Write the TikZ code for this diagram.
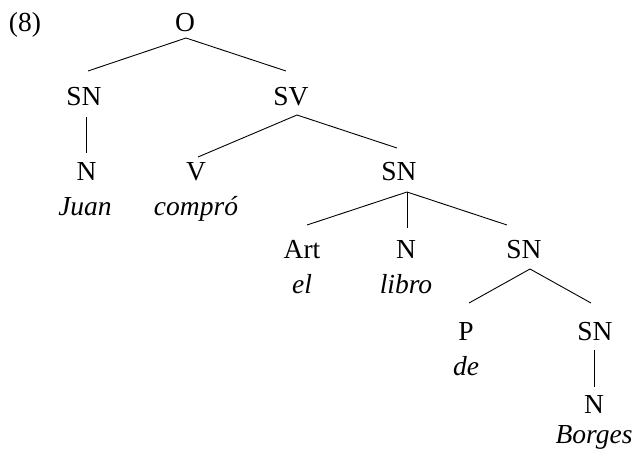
\documentclass[tikz,border=0pt]{standalone}
\usepackage{fontspec}
\setmainfont{Liberation Serif}
\begin{document}
\begin{tikzpicture}[x=1pt,y=-1pt,
  lab/.style={anchor=base,inner sep=0pt,font=\fontsize{27.5}{33}\selectfont},
  word/.style={lab,font=\fontsize{27.5}{33}\selectfont\itshape},
  edge/.style={line width=0.9pt}]
\useasboundingbox (0,0) rectangle (636,457);
\node[lab] (ex) at (25,32) {(8)};
\node[lab] (O) at (185,32) {O};
\node[lab] (SNa) at (84,106) {SN};
\node[lab] (SV) at (291,106) {SV};
\node[lab] (Na) at (86.5,180) {N};
\node[word] (Juan) at (85,215) {Juan};
\node[lab] (V) at (196,180) {V};
\node[word] (compro) at (196,215) {compró};
\node[lab] (SNb) at (399,180) {SN};
\node[lab] (Art) at (302,258) {Art};
\node[word] (el) at (302,293) {el};
\node[lab] (Nb) at (406,258) {N};
\node[word] (libro) at (406,293) {libro};
\node[lab] (SNc) at (524,258) {SN};
\node[lab] (P) at (466,340) {P};
\node[word] (de) at (466,375) {de};
\node[lab] (SNd) at (595,340) {SN};
\node[lab] (Nc) at (594,413) {N};
\node[word] (Borges) at (594,443) {Borges};
\draw[edge] ([shift={(1,6)}]O.base) -- ([shift={(4,-35)}]SNa.base);
\draw[edge] ([shift={(1,6)}]O.base) -- ([shift={(-5,-35)}]SV.base);
\draw[edge] ([shift={(2.5,11)}]SNa.base) -- ([shift={(0,-27)}]Na.base);
\draw[edge] ([shift={(6,9)}]SV.base) -- ([shift={(2,-23)}]V.base);
\draw[edge] ([shift={(6,9)}]SV.base) -- ([shift={(-2,-32)}]SNb.base);
\draw[edge] ([shift={(8,12)}]SNb.base) -- ([shift={(5,-33)}]Art.base);
\draw[edge] ([shift={(8,12)}]SNb.base) -- ([shift={(1,-30)}]Nb.base);
\draw[edge] ([shift={(8,12)}]SNb.base) -- ([shift={(-17,-33)}]SNc.base);
\draw[edge] ([shift={(6,11)}]SNc.base) -- ([shift={(3,-37)}]P.base);
\draw[edge] ([shift={(6,11)}]SNc.base) -- ([shift={(-4,-37)}]SNd.base);
\draw[edge] ([shift={(-1,10)}]SNd.base) -- ([shift={(0,-26)}]Nc.base);
\end{tikzpicture}
\end{document}
